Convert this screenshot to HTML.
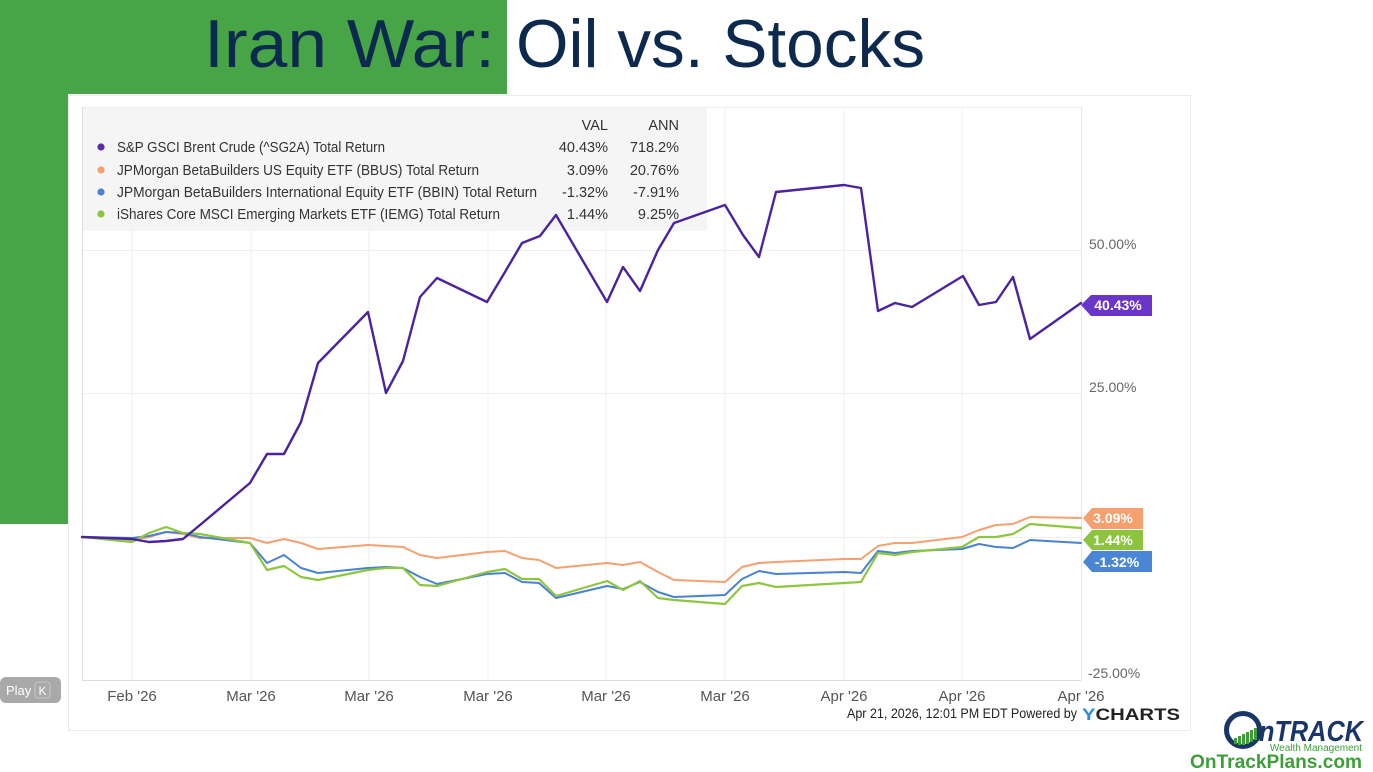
<!DOCTYPE html>
<html>
<head>
<meta charset="utf-8">
<style>
html,body{margin:0;padding:0;background:#fff;}
body{width:1373px;height:772px;overflow:hidden;position:relative;}
svg{position:absolute;left:0;top:0;}
text{font-family:"Liberation Sans",sans-serif;}
</style>
</head>
<body>
<svg width="1373" height="772" viewBox="0 0 1373 772" xmlns="http://www.w3.org/2000/svg">
  <!-- green background blocks -->
  <rect x="0" y="0" width="507" height="94" fill="#48a547"/>
  <rect x="0" y="0" width="68" height="524" fill="#48a547"/>
  <!-- title -->
  <text x="204" y="67" font-size="68" fill="#0c2a4d" textLength="291" lengthAdjust="spacingAndGlyphs">Iran War:</text>
  <text x="516" y="67" font-size="68" fill="#0c2a4d" textLength="409" lengthAdjust="spacingAndGlyphs">Oil vs. Stocks</text>

  <!-- chart box -->
  <rect x="68.5" y="95.5" width="1122" height="635" fill="#fff" stroke="#ececec" stroke-width="1"/>

  <!-- gridlines -->
  <g stroke="#efefef" stroke-width="1">
    <line x1="132" y1="107" x2="132" y2="680"/>
    <line x1="251" y1="107" x2="251" y2="680"/>
    <line x1="369" y1="107" x2="369" y2="680"/>
    <line x1="488" y1="107" x2="488" y2="680"/>
    <line x1="606" y1="107" x2="606" y2="680"/>
    <line x1="725" y1="107" x2="725" y2="680"/>
    <line x1="844" y1="107" x2="844" y2="680"/>
    <line x1="962" y1="107" x2="962" y2="680"/>
    <line x1="82" y1="250.5" x2="1081" y2="250.5"/>
    <line x1="82" y1="393.5" x2="1081" y2="393.5"/>
    <line x1="82" y1="537.5" x2="1081" y2="537.5"/>
    <line x1="82" y1="107.5" x2="1081" y2="107.5"/>
  </g>
  <line x1="1081.5" y1="107" x2="1081.5" y2="680" stroke="#e6e6e6"/>
  <line x1="82.5" y1="107" x2="82.5" y2="680" stroke="#dcdcdc"/>
  <line x1="82" y1="680.5" x2="1081" y2="680.5" stroke="#dcdcdc"/>

  <!-- legend box -->
  <rect x="83" y="108" width="624" height="123" fill="#f3f3f3" fill-opacity="0.85"/>
  <g font-size="14.5" fill="#333">
    <text x="608" y="130" text-anchor="end">VAL</text>
    <text x="679" y="130" text-anchor="end">ANN</text>
    <circle cx="101" cy="147" r="3.6" fill="#5a2ca8"/>
    <text x="117" y="152" textLength="268" lengthAdjust="spacingAndGlyphs">S&amp;P GSCI Brent Crude (^SG2A) Total Return</text>
    <text x="608" y="152" text-anchor="end">40.43%</text>
    <text x="679" y="152" text-anchor="end">718.2%</text>
    <circle cx="101" cy="170" r="3.6" fill="#f5a06e"/>
    <text x="117" y="175" textLength="362" lengthAdjust="spacingAndGlyphs">JPMorgan BetaBuilders US Equity ETF (BBUS) Total Return</text>
    <text x="608" y="175" text-anchor="end">3.09%</text>
    <text x="679" y="175" text-anchor="end">20.76%</text>
    <circle cx="101" cy="192" r="3.6" fill="#4a86d0"/>
    <text x="117" y="197" textLength="420" lengthAdjust="spacingAndGlyphs">JPMorgan BetaBuilders International Equity ETF (BBIN) Total Return</text>
    <text x="608" y="197" text-anchor="end">-1.32%</text>
    <text x="679" y="197" text-anchor="end">-7.91%</text>
    <circle cx="101" cy="214" r="3.6" fill="#8cc43f"/>
    <text x="117" y="219" textLength="383" lengthAdjust="spacingAndGlyphs">iShares Core MSCI Emerging Markets ETF (IEMG) Total Return</text>
    <text x="608" y="219" text-anchor="end">1.44%</text>
    <text x="679" y="219" text-anchor="end">9.25%</text>
  </g>

  <!-- series -->
  <g fill="none" stroke-linejoin="round" stroke-linecap="round">
    <polyline stroke="#f5a070" stroke-width="2" points="82,537 132,540 149,537 166,532 183,534 200,538 250,538 267,543 284,539 301,543 318,549 368,545 386,546 403,547 420,555 437,558 487,552 505,551 522,558 539,560 556,568 607,563 623,565 640,562 658,572 674,580 725,582 742,567 759,563 776,562 844,559 861,559 878,546 895,543 912,543 962,537 979,530 996,525 1013,524 1030,517 1081,518"/>
    <polyline stroke="#4a82d2" stroke-width="2" points="82,537 132,538 149,536 166,532 183,533 200,537 250,543 267,563 284,555 301,568 318,573 368,568 386,567 403,568 420,577 437,584 487,574 505,573 522,582 539,583 556,598 607,586 623,589 640,582 658,592 674,597 725,595 742,579 759,571 776,574 844,572 861,573 878,551 895,553 912,551 962,549 979,544 996,547 1013,548 1030,540 1081,543"/>
    <polyline stroke="#8dc63f" stroke-width="2.2" points="82,537 132,542 149,533 166,527 183,533 200,534 250,543 267,570 284,566 301,577 318,580 368,570 386,568 403,568 420,585 437,586 487,572 505,569 522,579 539,579 556,596 607,581 623,590 640,581 658,598 674,600 725,604 742,586 759,583 776,587 844,583 861,582 878,553 895,555 912,552 962,547 979,537 996,537 1013,534 1030,524 1081,528"/>
    <polyline stroke="#4b22a0" stroke-width="2.4" points="82,537 132,539 149,542 166,541 183,539 200,525 250,483 267,454 284,454 301,422 318,363 368,312 386,393 403,361 420,297 437,278 487,302 505,272 522,243 540,236 556,215 607,302 623,267 640,291 658,250 674,223 725,205 743,235 759,257 776,192 844,185 861,188 878,311 895,303 912,307 963,276 979,305 996,302 1013,277 1030,339 1081,303"/>
  </g>

  <!-- y-axis labels -->
  <g font-size="14" fill="#666">
    <text x="1089" y="249">50.00%</text>
    <text x="1089" y="392">25.00%</text>
    <text x="1088" y="678">-25.00%</text>
  </g>

  <!-- value tags -->
  <polygon points="1081,305 1091,295 1152,295 1152,316 1091,316" fill="#6a35c8"/>
  <text x="1118" y="310" font-size="14" font-weight="bold" fill="#fff" text-anchor="middle">40.43%</text>
  <polygon points="1083,518 1092,508 1143,508 1143,529 1092,529" fill="#f5a06e"/>
  <text x="1113" y="523" font-size="14" font-weight="bold" fill="#fff" text-anchor="middle">3.09%</text>
  <polygon points="1083,540 1092,530 1143,530 1143,550 1092,550" fill="#8cc43f"/>
  <text x="1113" y="545" font-size="14" font-weight="bold" fill="#fff" text-anchor="middle">1.44%</text>
  <polygon points="1083,562 1092,551 1152,551 1152,572 1092,572" fill="#4a86d6"/>
  <text x="1117" y="567" font-size="14" font-weight="bold" fill="#fff" text-anchor="middle">-1.32%</text>

  <!-- x-axis labels -->
  <g font-size="15" fill="#555" text-anchor="middle">
    <text x="132" y="701">Feb '26</text>
    <text x="251" y="701">Mar '26</text>
    <text x="369" y="701">Mar '26</text>
    <text x="488" y="701">Mar '26</text>
    <text x="606" y="701">Mar '26</text>
    <text x="725" y="701">Mar '26</text>
    <text x="844" y="701">Apr '26</text>
    <text x="962" y="701">Apr '26</text>
    <text x="1081" y="701">Apr '26</text>
  </g>

  <!-- footer -->
  <text x="847" y="718" font-size="14" fill="#222" textLength="230" lengthAdjust="spacingAndGlyphs">Apr 21, 2026, 12:01 PM EDT Powered by</text>
  <text x="1082" y="720" font-size="17" font-weight="bold" fill="#222" textLength="98" lengthAdjust="spacingAndGlyphs"><tspan fill="#2a8be0">Y</tspan>CHARTS</text>

  <!-- play button -->
  <rect x="0" y="677" width="61" height="26" rx="6" fill="#a9a9a9"/>
  <text x="6" y="695" font-size="13" fill="#fff">Play</text>
  <rect x="35" y="682" width="15" height="16" rx="3" fill="none" stroke="#c8c8c8" stroke-width="1"/>
  <text x="42.5" y="695" font-size="12" fill="#fff" text-anchor="middle">K</text>

  <!-- logo -->
  <g>
    <circle cx="1243" cy="730" r="16.5" fill="none" stroke="#1a3668" stroke-width="5"/>
    <g fill="#3e9f3a">
      <rect x="1234" y="738" width="3" height="6"/>
      <rect x="1238" y="736" width="3" height="9"/>
      <rect x="1242" y="734" width="3" height="11"/>
      <rect x="1246" y="732" width="3" height="12"/>
      <rect x="1250" y="730" width="3" height="12"/>
      <rect x="1254" y="728" width="3" height="12"/>
    </g>
    <text x="1259" y="741" font-size="29" font-weight="bold" font-style="italic" fill="#1a3668" textLength="104" lengthAdjust="spacingAndGlyphs">nTRACK</text>
    <text x="1362" y="751" font-size="10" fill="#3e9f3a" text-anchor="end">Wealth Management</text>
    <text x="1190" y="768" font-size="19" font-weight="bold" fill="#3e9f3a" textLength="172" lengthAdjust="spacingAndGlyphs">OnTrackPlans.com</text>
  </g>
</svg>
</body>
</html>
